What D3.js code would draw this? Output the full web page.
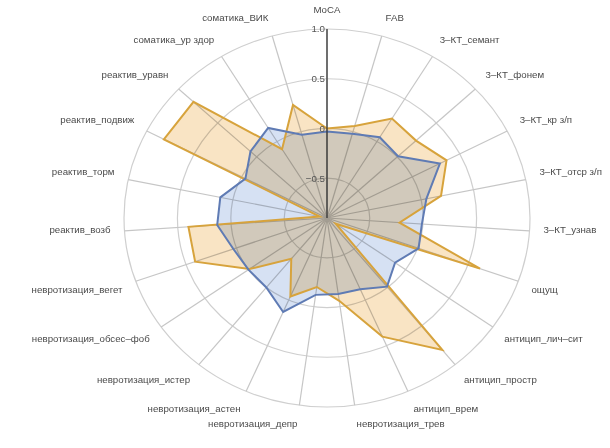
<!DOCTYPE html>
<html>
<head>
<meta charset="utf-8">
<script src="https://cdn.jsdelivr.net/npm/d3@7/dist/d3.min.js"></script>
<style>
  html, body { margin: 0; padding: 0; background: #fff; }
  svg { display: block; }
  .fill { mix-blend-mode: multiply; }
</style>
</head>
<body>
<svg id="chart" width="610" height="448"></svg>
<script>
// Radar axes, clockwise from the top
const axes = [
  "MoCA", "FAB", "3–КТ_семант", "3–КТ_фонем", "3–КТ_кр з/п", "3–КТ_отср з/п",
  "3–КТ_узнав", "ощущ", "антицип_лич–сит", "антицип_простр", "антицип_врем",
  "невротизация_трев", "невротизация_депр", "невротизация_астен",
  "невротизация_истер", "невротизация_обсес–фоб", "невротизация_вегет",
  "реактив_возб", "реактив_торм", "реактив_подвиж", "реактив_уравн",
  "соматика_ур здор", "соматика_ВИК"
];

// Group profiles (one value per axis)
const seriesBlue = [
  -0.03, -0.02, 0.05, 0.01, 0.29, 0.05, -0.01, 0.01, -0.12, -0.01, -0.12,
  -0.13, -0.12, 0.13, 0.00, 0.00, 0.03, 0.13, 0.12, -0.04, 0.08, 0.16, -0.03
];
const seriesOrange = [
  0.00, 0.06, 0.27, 0.24, 0.36, 0.19, -0.22, 0.62, -0.80, 0.81, 0.40,
  -0.06, -0.20, -0.04, -0.37, -0.01, 0.41, 0.40, -0.83, 0.82, 0.81, -0.09, 0.28
];

// Radial ticks
const tickValues = [-0.5, 0, 0.5, 1.0];
const tickLabels = ["−0.5", "0", "0.5", "1.0"];

const svg = d3.select("#chart");
const cx = 327, cy = 218;
const R = 189;           // vertical radius
const kx = 203 / 189;    // horizontal stretch of the plot area

const angle = d3.scaleLinear().domain([0, axes.length]).range([0, 2 * Math.PI]);
const radius = d3.scaleLinear().domain([-0.9, 1.0]).range([0, R]);

const g = svg.append("g")
  .attr("transform", `translate(${cx},${cy}) scale(${kx},1)`);

// Grid rings
g.selectAll("circle.ring")
  .data(tickValues)
  .join("circle")
  .attr("class", "ring")
  .attr("r", d => radius(d))
  .attr("fill", "none")
  .attr("stroke", "#cfcfcf")
  .attr("stroke-width", 1.2)
  .attr("vector-effect", "non-scaling-stroke");

// Spokes
g.selectAll("line.spoke")
  .data(axes)
  .join("line")
  .attr("class", "spoke")
  .attr("x1", 0).attr("y1", 0)
  .attr("x2", (d, i) => R * Math.sin(angle(i)))
  .attr("y2", (d, i) => -R * Math.cos(angle(i)))
  .attr("stroke", "#c6c6c6")
  .attr("stroke-width", 1.2)
  .attr("vector-effect", "non-scaling-stroke");

const radarLine = d3.lineRadial()
  .angle((d, i) => angle(i))
  .radius(d => radius(d))
  .curve(d3.curveLinearClosed);

// Filled areas (multiplied so the overlap darkens)
g.append("path")
  .attr("class", "fill")
  .attr("d", radarLine(seriesOrange))
  .attr("fill", "#f9e4c4");
g.append("path")
  .attr("class", "fill")
  .attr("d", radarLine(seriesBlue))
  .attr("fill", "#d6e1f3");

// Outlines
g.append("path")
  .attr("d", radarLine(seriesOrange))
  .attr("fill", "none")
  .attr("stroke", "#d7a33c")
  .attr("stroke-width", 2)
  .attr("vector-effect", "non-scaling-stroke");
g.append("path")
  .attr("d", radarLine(seriesBlue))
  .attr("fill", "none")
  .attr("stroke", "#5f7bb4")
  .attr("stroke-width", 2)
  .attr("vector-effect", "non-scaling-stroke");

// Main vertical axis
g.append("line")
  .attr("x1", 0).attr("y1", 0)
  .attr("x2", 0).attr("y2", -R)
  .attr("stroke", "#333")
  .attr("stroke-width", 1.3)
  .attr("vector-effect", "non-scaling-stroke");

// Tick labels along the vertical axis
svg.append("g")
  .selectAll("text")
  .data(tickValues)
  .join("text")
  .attr("x", cx - 2)
  .attr("y", d => cy - radius(d))
  .attr("dy", "0.35em")
  .attr("text-anchor", "end")
  .attr("font-family", "Liberation Sans, Arial, sans-serif")
  .attr("font-size", 9.8)
  .attr("fill", "#555")
  .text((d, i) => tickLabels[i]);

// Axis labels
const pad = 14;
svg.append("g")
  .selectAll("text")
  .data(axes)
  .join("text")
  .each(function (d, i) {
    const a = angle(i);
    const s = Math.sin(a), c = Math.cos(a);
    const x = cx + (R * kx + pad) * s;
    const y = cy - (R + pad) * c + (c > 0.1 ? -5 : (c < -0.1 ? 4 : -2));
    d3.select(this)
      .attr("x", x)
      .attr("y", y)
      .attr("dy", "0.35em")
      .attr("text-anchor", s > 0.05 ? "start" : (s < -0.05 ? "end" : "middle"));
  })
  .attr("font-family", "Liberation Sans, Arial, sans-serif")
  .attr("font-size", 9.7)
  .attr("fill", "#4a4a4a")
  .text(d => d);
</script>
</body>
</html>
